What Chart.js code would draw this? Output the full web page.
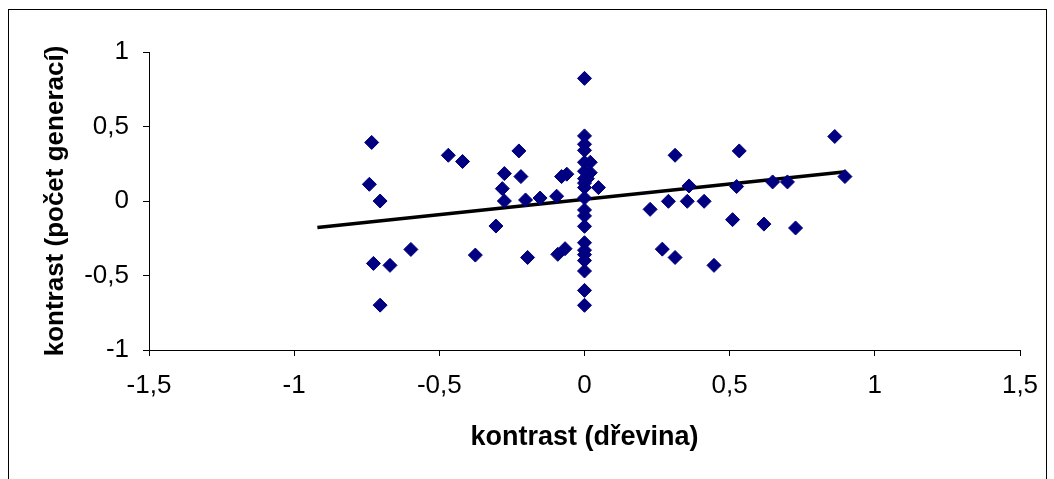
<!DOCTYPE html>
<html>
<head>
<meta charset="utf-8">
<script src="https://cdn.jsdelivr.net/npm/chart.js@4"></script>
<style>
  html, body { margin: 0; padding: 0; background: #fff; }
  #wrap { width: 1054px; height: 479px; position: relative; }
</style>
</head>
<body>
<div id="wrap"><canvas id="chart" width="1054" height="479"></canvas></div>
<script>
// values
const xValues = [
  -0.733, -0.741, -0.704, -0.469, -0.42, -0.226, -0.276, -0.219, -0.283, -0.276,
  -0.203, -0.153, -0.096, -0.079, -0.061, -0.305, -0.598, -0.727, -0.67, -0.376,
  -0.196, -0.092, -0.067, -0.704,
  0, 0, 0, 0, 0, 0, 0, 0, 0, 0, 0, 0, 0, 0, 0, 0, 0, 0, 0, 0,
  0.02, 0.02, 0.048, 0.01,
  0.312, 0.533, 0.862, 0.897, 0.36, 0.524, 0.648, 0.699, 0.226, 0.289,
  0.354, 0.412, 0.51, 0.618, 0.727, 0.268, 0.312, 0.446
];
const yValues = [
  0.393, 0.112, 0.0, 0.307, 0.265, 0.336, 0.184, 0.164, 0.083, 0.0,
  0.007, 0.02, 0.032, 0.164, 0.18, -0.168, -0.325, -0.419, -0.432, -0.363,
  -0.379, -0.358, -0.32, -0.699,
  0.823, 0.437, 0.381, 0.34, 0.26, 0.2, 0.15, 0.12, 0.09, 0.02, -0.06, -0.1,
  -0.17, -0.28, -0.33, -0.36, -0.40, -0.47, -0.6, -0.7,
  0.26, 0.19, 0.09, 0.15,
  0.307, 0.336, 0.433, 0.164, 0.101, 0.097, 0.128, 0.128, -0.056, -0.002,
  -0.002, -0.002, -0.125, -0.155, -0.181, -0.323, -0.379, -0.432
];
const trendX = [-0.92, 0.9];
const trendY = [-0.178, 0.196];
const xTicks = [-1.5, -1, -0.5, 0, 0.5, 1, 1.5];
const yTicks = [-1, -0.5, 0, 0.5, 1];

const points = xValues.map((x, i) => ({ x: x, y: yValues[i] }));
const trend = trendX.map((x, i) => ({ x: x, y: trendY[i] }));

const comma = v => String(v).replace('.', ',');

// outer frame of the chart object
const framePlugin = {
  id: 'frame',
  beforeDraw(chart) {
    const ctx = chart.ctx;
    ctx.save();
    ctx.fillStyle = '#fff';
    ctx.fillRect(0, 0, chart.width, chart.height);
    ctx.strokeStyle = '#000';
    ctx.lineWidth = 1;
    ctx.strokeRect(8.5, 9.5, 1038, 500);
    ctx.restore();
  }
};

Chart.defaults.font.family = '"Liberation Sans", Arial, sans-serif';
Chart.defaults.color = '#000';

new Chart(document.getElementById('chart').getContext('2d'), {
  type: 'scatter',
  data: {
    datasets: [{
      label: 'data',
      data: points,
      pointStyle: 'rectRot',
      pointRadius: 7,
      backgroundColor: '#000080',
      borderColor: '#000080',
      borderWidth: 1
    }, {
      type: 'line',
      label: 'trend',
      data: trend,
      borderColor: '#000',
      borderWidth: 3.5,
      pointRadius: 0,
      fill: false
    }]
  },
  options: {
    responsive: false,
    animation: false,
    layout: { padding: { left: 40, top: 52, right: 34, bottom: 25 } },
    plugins: { legend: { display: false }, tooltip: { enabled: false } },
    scales: {
      x: {
        type: 'linear',
        min: -1.5,
        max: 1.5,
        afterBuildTicks: s => { s.ticks = xTicks.map(v => ({ value: v })); },
        afterFit: s => { s.height = 104; },
        ticks: { callback: comma, font: { size: 26 }, padding: 14, maxRotation: 0 },
        grid: { drawOnChartArea: false, tickLength: 6, color: '#000' },
        border: { color: '#000' },
        title: {
          display: true,
          text: 'kontrast (dřevina)',
          font: { size: 27, weight: 'bold' },
          padding: 0
        }
      },
      y: {
        type: 'linear',
        min: -1,
        max: 1,
        afterBuildTicks: s => { s.ticks = yTicks.map(v => ({ value: v })); },
        afterFit: s => { s.width = 109; },
        ticks: { callback: comma, font: { size: 26 }, padding: 14 },
        grid: { drawOnChartArea: false, tickLength: 6, color: '#000' },
        border: { color: '#000' },
        title: {
          display: true,
          text: 'kontrast (počet generací)',
          font: { size: 26, weight: 'bold' },
          padding: 0
        }
      }
    }
  },
  plugins: [framePlugin]
});
</script>
</body>
</html>
